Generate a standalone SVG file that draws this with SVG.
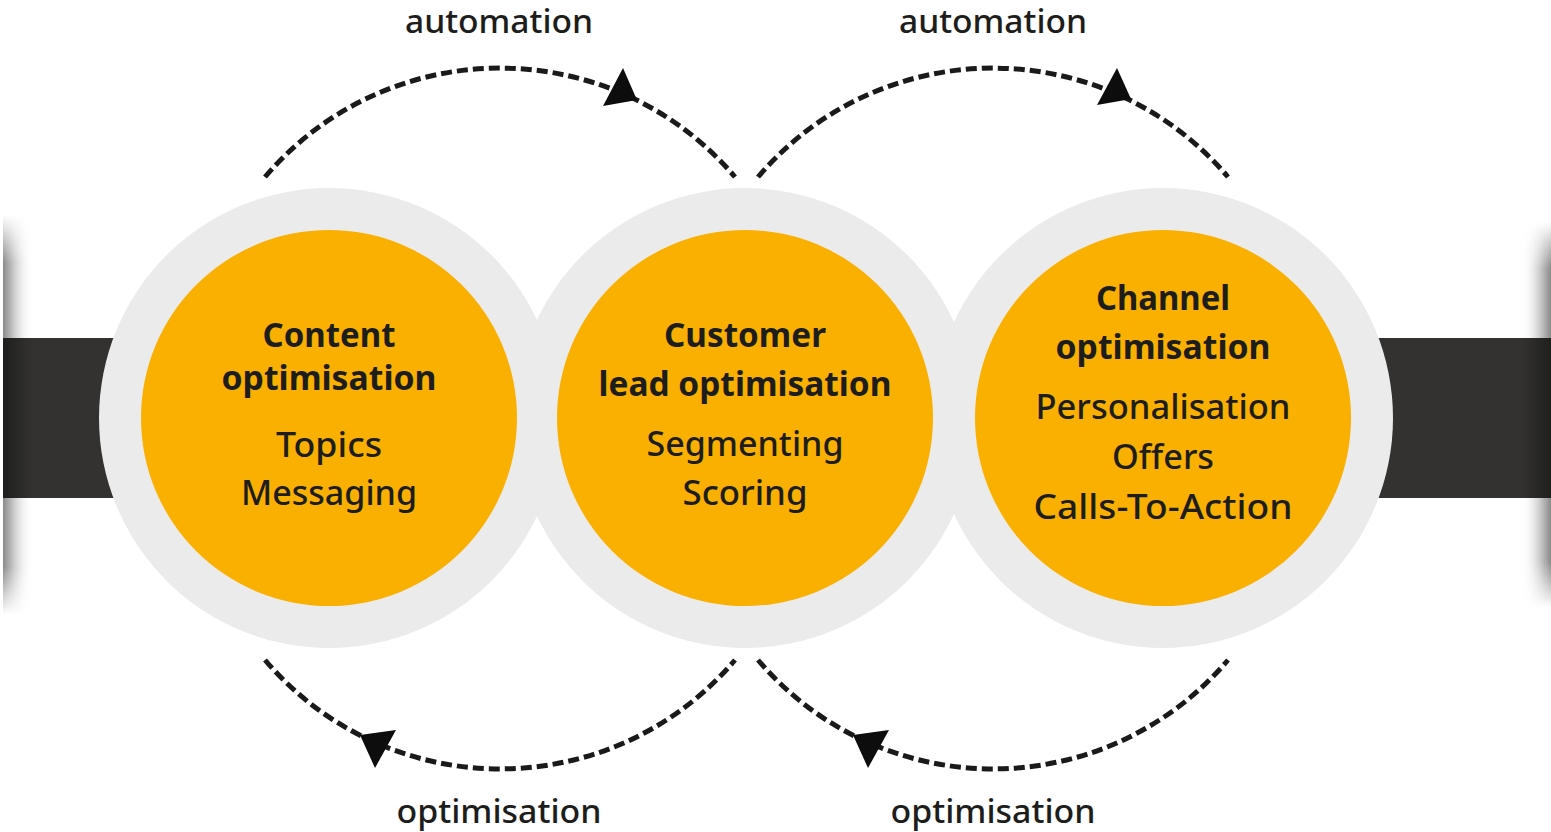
<svg xmlns="http://www.w3.org/2000/svg" width="1551" height="832" viewBox="0 0 1551 832">
<style>
.ring{fill:#EBEBEB}
.core{fill:#F9B000}
.t{font-family:"Noto Sans","Open Sans","DejaVu Sans",sans-serif;fill:#1d1d1b;text-anchor:middle}
.b{font-weight:700;font-size:34px}
.r{font-weight:500;font-size:34px}
.lbl{font-weight:500;font-size:32px}
.arc{fill:none;stroke:#1a1a1a;stroke-width:5;stroke-dasharray:11 5}
.head{fill:#0d0d0d}
</style>
<defs>
<linearGradient id="shL" x1="0" y1="0" x2="1" y2="0">
<stop offset="0" stop-color="#8a8a8a"/>
<stop offset="0.35" stop-color="#c8c8c8"/>
<stop offset="1" stop-color="#ffffff" stop-opacity="0"/>
</linearGradient>
<linearGradient id="shR" x1="1" y1="0" x2="0" y2="0">
<stop offset="0" stop-color="#8a8a8a"/>
<stop offset="0.35" stop-color="#c8c8c8"/>
<stop offset="1" stop-color="#ffffff" stop-opacity="0"/>
</linearGradient>
<linearGradient id="vfade" x1="0" y1="0" x2="0" y2="1">
<stop offset="0" stop-color="#000"/>
<stop offset="0.12" stop-color="#fff"/>
<stop offset="0.88" stop-color="#fff"/>
<stop offset="1" stop-color="#000"/>
</linearGradient>
<mask id="mL"><rect x="0" y="215" width="40" height="400" fill="url(#vfade)"/></mask>
<mask id="mR"><rect x="1510" y="222" width="41" height="386" fill="url(#vfade)"/></mask>
<linearGradient id="barL" x1="0" y1="0" x2="1" y2="0">
<stop offset="0" stop-color="#1f1f1e"/>
<stop offset="1" stop-color="#333231"/>
</linearGradient>
<linearGradient id="barR" x1="1" y1="0" x2="0" y2="0">
<stop offset="0" stop-color="#1f1f1e"/>
<stop offset="1" stop-color="#333231"/>
</linearGradient>
</defs>
<rect width="1551" height="832" fill="#ffffff"/>
<g id="backdrop">
<rect x="3" y="215" width="30" height="400" fill="url(#shL)" mask="url(#mL)"/>
<rect x="1521" y="222" width="30" height="386" fill="url(#shR)" mask="url(#mR)"/>
<rect x="3" y="338" width="1548" height="160" fill="#333231"/>
<rect x="3" y="338" width="30" height="160" fill="url(#barL)"/>
<rect x="1521" y="338" width="30" height="160" fill="url(#barR)"/>
</g>
<g id="rings">
<circle class="ring" cx="329" cy="418" r="230"/>
<circle class="ring" cx="745" cy="418" r="230"/>
<circle class="ring" cx="1163" cy="418" r="230"/>
</g>
<g id="node-content">
<circle class="core" cx="329" cy="418" r="188"/>
<text class="t b" x="329" y="347" textLength="133" lengthAdjust="spacingAndGlyphs">Content</text>
<text class="t b" x="329" y="390" textLength="215" lengthAdjust="spacingAndGlyphs">optimisation</text>
<text class="t r" x="329" y="457" textLength="106" lengthAdjust="spacingAndGlyphs">Topics</text>
<text class="t r" x="329" y="505" textLength="176" lengthAdjust="spacingAndGlyphs">Messaging</text>
</g>
<g id="node-customer">
<circle class="core" cx="745" cy="418" r="188"/>
<text class="t b" x="745" y="347" textLength="162" lengthAdjust="spacingAndGlyphs">Customer</text>
<text class="t b" x="745" y="396" textLength="293" lengthAdjust="spacingAndGlyphs">lead optimisation</text>
<text class="t r" x="745" y="456" textLength="197" lengthAdjust="spacingAndGlyphs">Segmenting</text>
<text class="t r" x="745" y="505" textLength="125" lengthAdjust="spacingAndGlyphs">Scoring</text>
</g>
<g id="node-channel">
<circle class="core" cx="1163" cy="418" r="188"/>
<text class="t b" x="1163" y="310" textLength="134" lengthAdjust="spacingAndGlyphs">Channel</text>
<text class="t b" x="1163" y="359" textLength="215" lengthAdjust="spacingAndGlyphs">optimisation</text>
<text class="t r" x="1163" y="419" textLength="255" lengthAdjust="spacingAndGlyphs">Personalisation</text>
<text class="t r" x="1163" y="469" textLength="102" lengthAdjust="spacingAndGlyphs">Offers</text>
<text class="t r" x="1163" y="519" textLength="259" lengthAdjust="spacingAndGlyphs">Calls-To-Action</text>
</g>
<g id="connectors">
<path class="arc" d="M 265 177 A 308 308 0 0 1 735 177"/>
<path class="arc" d="M 758 177 A 308 308 0 0 1 1228 177"/>
<path class="arc" d="M 265 660 A 308 308 0 0 0 735 660"/>
<path class="arc" d="M 758 660 A 308 308 0 0 0 1228 660"/>
<polygon class="head" points="623,68 603,106 637,100"/>
<polygon class="head" points="1117,68 1097,105 1131,99"/>
<polygon class="head" points="375,768 360,735 396,730"/>
<polygon class="head" points="868,768 853,735 889,730"/>
</g>
<g id="labels">
<text class="t lbl" x="499" y="33" textLength="188" lengthAdjust="spacingAndGlyphs">automation</text>
<text class="t lbl" x="993" y="33" textLength="188" lengthAdjust="spacingAndGlyphs">automation</text>
<text class="t lbl" x="499" y="823" textLength="205" lengthAdjust="spacingAndGlyphs">optimisation</text>
<text class="t lbl" x="993" y="823" textLength="205" lengthAdjust="spacingAndGlyphs">optimisation</text>
</g>
</svg>
